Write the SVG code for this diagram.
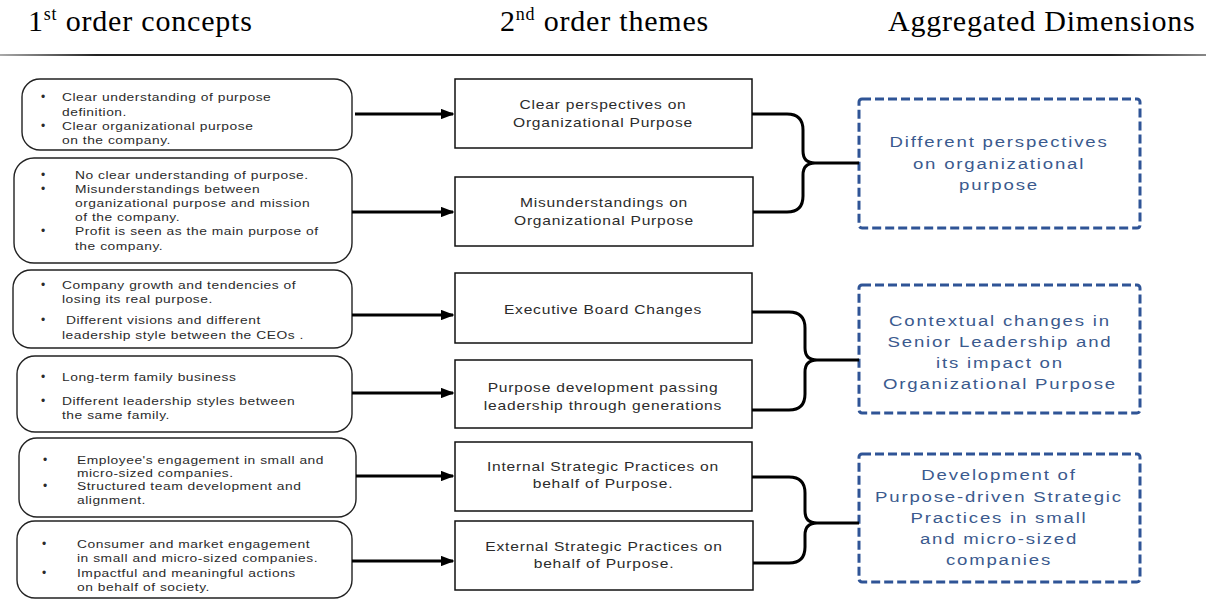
<svg xmlns="http://www.w3.org/2000/svg" width="1206" height="600" viewBox="0 0 1206 600">
<style>
.hdr{font-family:"Liberation Serif","Times New Roman",serif;font-size:30px;fill:#000;letter-spacing:0.8px}
.lt{font-family:"Liberation Sans",Arial,sans-serif;font-size:11.5px;fill:#2b2b2b;letter-spacing:0.45px;transform-box:fill-box;transform-origin:0% 50%;transform:scaleX(1.2)}
.bul{font-family:"Liberation Sans",Arial,sans-serif;font-size:12px;fill:#2b2b2b}
.mt{font-family:"Liberation Sans",Arial,sans-serif;font-size:13px;fill:#2b2b2b;letter-spacing:0.65px;text-anchor:middle;transform-box:fill-box;transform-origin:50% 50%;transform:scaleX(1.2)}
.dt{font-family:"Liberation Sans",Arial,sans-serif;font-size:15.5px;fill:#3B5A8E;letter-spacing:1.5px;text-anchor:middle;transform-box:fill-box;transform-origin:50% 50%;transform:scaleX(1.2)}
.lbox{fill:#fff;stroke:#222;stroke-width:1.4}
.mbox{fill:#fff;stroke:#111;stroke-width:1.5}
.dbox{fill:#fff;stroke:#2F5496;stroke-width:3;stroke-dasharray:9 4}
.arr{stroke:#000;stroke-width:3;fill:none;marker-end:url(#ah)}
.brace{stroke:#000;stroke-width:3;fill:none;stroke-linejoin:round}
</style>
<defs>
<marker id="ah" viewBox="0 0 10 10" refX="9" refY="5" markerWidth="4.5" markerHeight="3.5" orient="auto" markerUnits="strokeWidth" preserveAspectRatio="none">
<path d="M0,0 L10,5 L0,10 Z" fill="#000"/>
</marker>
<linearGradient id="rule" x1="0" y1="0" x2="1" y2="0">
<stop offset="0" stop-color="#aaa"/>
<stop offset="0.08" stop-color="#222"/>
<stop offset="0.92" stop-color="#222"/>
<stop offset="1" stop-color="#888"/>
</linearGradient>
</defs>
<rect width="1206" height="600" fill="#fff"/>

<g id="headers">
<text class="hdr" x="28" y="31">1<tspan font-size="18" dy="-11">st</tspan><tspan dy="11"> order concepts</tspan></text>
<text class="hdr" x="500" y="31">2<tspan font-size="18" dy="-11">nd</tspan><tspan dy="11"> order themes</tspan></text>
<text class="hdr" x="888" y="31">Aggregated Dimensions</text>
<rect x="0" y="54" width="1206" height="2" fill="url(#rule)"/>
</g>

<g id="c1">
<rect class="lbox" x="22" y="79" width="330" height="71" rx="18"/>
<text class="bul" x="41" y="101">•</text>
<text class="lt" x="62" y="101">Clear understanding of purpose</text>
<text class="lt" x="62" y="116">definition.</text>
<text class="bul" x="41" y="130">•</text>
<text class="lt" x="62" y="130">Clear organizational purpose</text>
<text class="lt" x="62" y="144">on the company.</text>
</g>

<g id="c2">
<rect class="lbox" x="14" y="158" width="338" height="105" rx="20"/>
<text class="bul" x="41" y="179">•</text>
<text class="lt" x="75" y="179">No clear understanding of purpose.</text>
<text class="bul" x="41" y="193">•</text>
<text class="lt" x="75" y="193">Misunderstandings between</text>
<text class="lt" x="75" y="207">organizational purpose and mission</text>
<text class="lt" x="75" y="221">of the company.</text>
<text class="bul" x="41" y="235">•</text>
<text class="lt" x="75" y="235">Profit is seen as the main purpose of</text>
<text class="lt" x="75" y="250">the company.</text>
</g>

<g id="c3">
<rect class="lbox" x="13" y="270" width="339" height="78" rx="18"/>
<text class="bul" x="41" y="289">•</text>
<text class="lt" x="62" y="289">Company growth and tendencies of</text>
<text class="lt" x="62" y="303">losing its real purpose.</text>
<text class="bul" x="41" y="324">•</text>
<text class="lt" x="66" y="324">Different visions and different</text>
<text class="lt" x="62" y="339">leadership style between the CEOs .</text>
</g>

<g id="c4">
<rect class="lbox" x="17" y="356" width="335" height="76" rx="18"/>
<text class="bul" x="41" y="381">•</text>
<text class="lt" x="62" y="381">Long-term family business</text>
<text class="bul" x="41" y="405">•</text>
<text class="lt" x="62" y="405">Different leadership styles between</text>
<text class="lt" x="62" y="419">the same family.</text>
</g>

<g id="c5">
<rect class="lbox" x="19" y="438" width="337" height="79" rx="18"/>
<text class="bul" x="43" y="464">•</text>
<text class="lt" x="77" y="464">Employee's engagement in small and</text>
<text class="lt" x="77" y="477">micro-sized companies.</text>
<text class="bul" x="43" y="490">•</text>
<text class="lt" x="77" y="490">Structured team development and</text>
<text class="lt" x="77" y="504">alignment.</text>
</g>

<g id="c6">
<rect class="lbox" x="17" y="521" width="335" height="77" rx="18"/>
<text class="bul" x="42" y="548">•</text>
<text class="lt" x="77" y="548">Consumer and market engagement</text>
<text class="lt" x="77" y="562">in small and micro-sized companies.</text>
<text class="bul" x="42" y="577">•</text>
<text class="lt" x="77" y="577">Impactful and meaningful actions</text>
<text class="lt" x="77" y="591">on behalf of society.</text>
</g>

<g id="t1">
<rect class="mbox" x="455" y="79" width="297" height="69"/>
<text class="mt" x="603" y="109">Clear perspectives on</text>
<text class="mt" x="603" y="127">Organizational Purpose</text>
</g>
<g id="t2">
<rect class="mbox" x="455" y="177" width="298" height="69"/>
<text class="mt" x="604" y="207">Misunderstandings on</text>
<text class="mt" x="604" y="225">Organizational Purpose</text>
</g>
<g id="t3">
<rect class="mbox" x="455" y="273" width="297" height="70"/>
<text class="mt" x="603" y="314">Executive Board Changes</text>
</g>
<g id="t4">
<rect class="mbox" x="455" y="360" width="297" height="68"/>
<text class="mt" x="603" y="392">Purpose development passing</text>
<text class="mt" x="603" y="410">leadership through generations</text>
</g>
<g id="t5">
<rect class="mbox" x="455" y="442" width="297" height="69"/>
<text class="mt" x="603" y="471">Internal Strategic Practices on</text>
<text class="mt" x="603" y="488">behalf of Purpose.</text>
</g>
<g id="t6">
<rect class="mbox" x="455" y="521" width="298" height="69"/>
<text class="mt" x="604" y="551">External Strategic Practices on</text>
<text class="mt" x="604" y="568">behalf of Purpose.</text>
</g>

<g id="d1">
<rect class="dbox" x="859" y="99" width="281" height="129" rx="3"/>
<text class="dt" x="999" y="147">Different perspectives</text>
<text class="dt" x="999" y="169">on organizational</text>
<text class="dt" x="999" y="190">purpose</text>
</g>
<g id="d2">
<rect class="dbox" x="859" y="285" width="281" height="128" rx="3"/>
<text class="dt" x="1000" y="326">Contextual changes in</text>
<text class="dt" x="1000" y="347">Senior Leadership and</text>
<text class="dt" x="1000" y="368">its impact on</text>
<text class="dt" x="1000" y="389">Organizational Purpose</text>
</g>
<g id="d3">
<rect class="dbox" x="859" y="454" width="281" height="128" rx="3"/>
<text class="dt" x="999" y="480">Development of</text>
<text class="dt" x="999" y="502">Purpose-driven Strategic</text>
<text class="dt" x="999" y="523">Practices in small</text>
<text class="dt" x="999" y="544">and micro-sized</text>
<text class="dt" x="999" y="565">companies</text>
</g>

<g id="connectors">
<line class="arr" x1="355" y1="114" x2="453" y2="114"/>
<line class="arr" x1="352" y1="212" x2="453" y2="212"/>
<line class="arr" x1="352" y1="315" x2="453" y2="315"/>
<line class="arr" x1="352" y1="393" x2="453" y2="393"/>
<line class="arr" x1="356" y1="476" x2="453" y2="476"/>
<line class="arr" x1="352" y1="561" x2="453" y2="561"/>
<path class="brace" d="M752,114 H787 Q803,114 803,130 V151 Q803,163 815,163 H859 M753,212 H787 Q803,212 803,196 V175 Q803,163 815,163"/>
<path class="brace" d="M752,312 H789 Q805,312 805,328 V348 Q805,360 817,360 H859 M752,410 H789 Q805,410 805,394 V372 Q805,360 817,360"/>
<path class="brace" d="M752,477 H789 Q805,477 805,493 V511 Q805,523 817,523 H859 M753,563 H789 Q805,563 805,547 V535 Q805,523 817,523"/>
</g>
</svg>
